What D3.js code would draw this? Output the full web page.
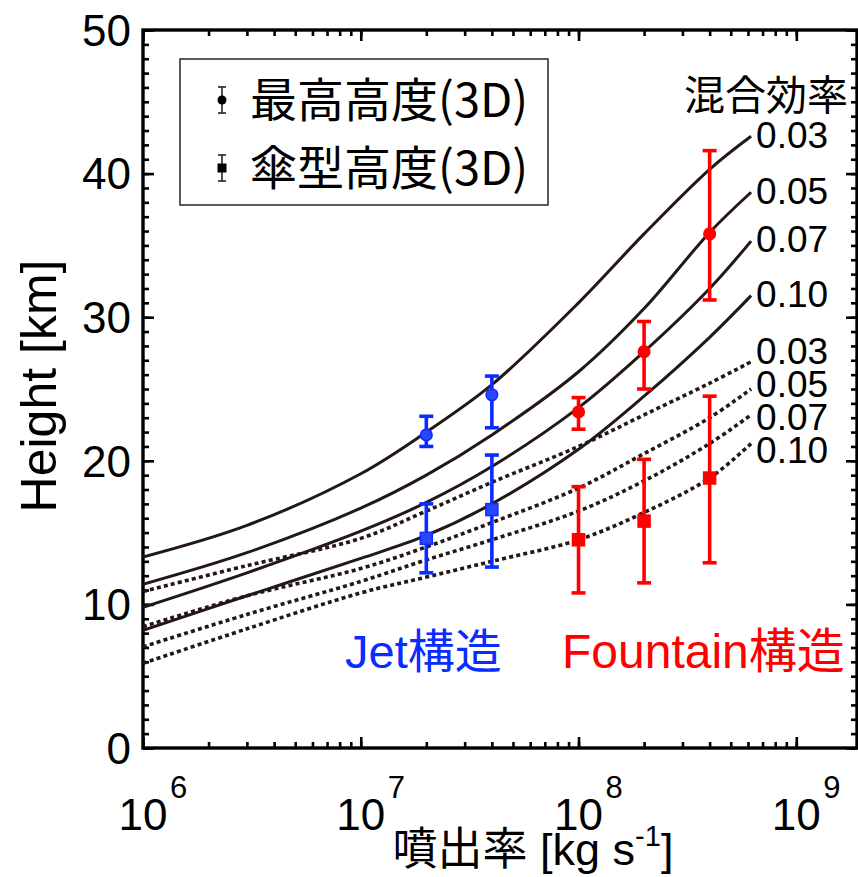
<!DOCTYPE html>
<html>
<head>
<meta charset="utf-8">
<script src="https://cdn.jsdelivr.net/npm/d3@7"></script>
<style>
  body { margin: 0; background: #fff; }
  svg { display: block; }
</style>
</head>
<body>
<svg id="chart" width="858" height="877"></svg>
<script>
// Eruption rates (kg/s) at which the model curves are sampled
const curveRates = [1e6, 3e6, 1e7, 2e7, 4e7, 1e8, 2e8, 4e8, 6.2e8];
// Mixing (entrainment) efficiencies of the model curves
const efficiencies = ["0.03", "0.05", "0.07", "0.10"];
// 1D model: maximum plume height (solid), km
const topHeight003 = [13.3, 15.5, 19.1, 22.0, 25.3, 31.0, 35.8, 40.3, 42.6];
const topHeight005 = [11.4, 13.6, 16.7, 19.0, 21.8, 26.2, 30.6, 35.9, 38.7];
const topHeight007 = [9.8, 12.2, 15.1, 17.1, 19.6, 23.7, 27.6, 32.0, 35.3];
const topHeight010 = [8.2, 10.6, 13.2, 14.8, 17.0, 20.8, 24.5, 28.6, 31.5];
// 1D model: umbrella (neutral buoyancy) height (dotted), km
const umbHeight003 = [10.9, 12.7, 14.6, 16.5, 18.5, 21.0, 23.2, 25.4, 26.9];
const umbHeight005 = [8.45, 10.6, 12.5, 14.0, 15.7, 18.1, 20.5, 23.0, 25.0];
const umbHeight007 = [7.05, 9.3, 11.6, 13.1, 14.5, 16.5, 18.6, 21.2, 23.2];
const umbHeight010 = [5.9, 8.3, 10.8, 11.9, 13.0, 14.5, 16.4, 18.8, 21.2];

// 3D simulations
const simRates   = [2e7, 4e7, 1e8, 2e8, 4e8];
const simRegime  = ["jet", "jet", "fountain", "fountain", "fountain"];
const simTop     = [21.8, 24.6, 23.4, 27.6, 35.8];
const simTopLow  = [21.0, 22.3, 22.2, 25.0, 31.2];
const simTopHigh = [23.1, 25.9, 24.4, 29.7, 41.6];
const simUmb     = [14.6, 16.6, 14.5, 15.8, 18.8];
const simUmbLow  = [12.2, 12.6, 10.8, 11.5, 12.9];
const simUmbHigh = [17.0, 20.4, 18.2, 20.1, 24.5];

// Axis ticks and texts
const xTickExponents = [6, 7, 8, 9];
const yTickValues = [0, 10, 20, 30, 40, 50];
const legendLabels = ["最高高度(3D)", "傘型高度(3D)"];
const regimeLabels = { jet: "Jet構造", fountain: "Fountain構造" };
const efficiencyTitle = "混合効率";
const yTitle = "Height [km]";
const xTitleMain = "噴出率 [kg s";
const xTitleSup = "-1";
const xTitleEnd = "]";

// ---- drawing ----
const svg = d3.select("#chart");
const plot = { left: 143, right: 857, top: 30, bottom: 748 };
const latin = "'Liberation Sans', Arial, 'Noto Sans CJK JP', sans-serif";
const cjk = "'Noto Sans CJK JP', sans-serif";
const ink = "#231815";
const blue = "#0a2cff";
const red = "#ff0000";
const regimeColor = { jet: blue, fountain: red };

const x = d3.scaleLog().domain([1e6, 1.9e9]).range([plot.left, plot.right]);
const y = d3.scaleLinear().domain([0, 50]).range([plot.bottom, plot.top]);

// minor ticks
const xMinor = [];
for (let e = 6; e <= 9; e++) for (let m = 1; m <= 9; m++) {
  const v = m * Math.pow(10, e);
  if (v <= 1.9e9) xMinor.push(v);
}
const xMajor = xTickExponents.map(e => Math.pow(10, e));
const yMinor = d3.range(0, 51, 1);

function styleAxis(g) {
  g.select(".domain").remove();
  g.selectAll(".tick line").attr("stroke", "#000").attr("stroke-width", 2.6);
  g.selectAll(".tick text").remove();
}

// bottom and top x ticks (inward)
svg.append("g").attr("transform", `translate(0,${plot.bottom})`)
  .call(d3.axisBottom(x).tickValues(xMinor).tickSize(-6)).call(styleAxis);
svg.append("g").attr("transform", `translate(0,${plot.bottom})`)
  .call(d3.axisBottom(x).tickValues(xMajor).tickSize(-11)).call(styleAxis);
svg.append("g").attr("transform", `translate(0,${plot.top})`)
  .call(d3.axisTop(x).tickValues(xMinor).tickSize(-6)).call(styleAxis);
svg.append("g").attr("transform", `translate(0,${plot.top})`)
  .call(d3.axisTop(x).tickValues(xMajor).tickSize(-11)).call(styleAxis);
// left and right y ticks (inward)
svg.append("g").attr("transform", `translate(${plot.left},0)`)
  .call(d3.axisLeft(y).tickValues(yMinor).tickSize(-6)).call(styleAxis);
svg.append("g").attr("transform", `translate(${plot.left},0)`)
  .call(d3.axisLeft(y).tickValues(yTickValues).tickSize(-11)).call(styleAxis);
svg.append("g").attr("transform", `translate(${plot.right},0)`)
  .call(d3.axisRight(y).tickValues(yMinor).tickSize(-6)).call(styleAxis);
svg.append("g").attr("transform", `translate(${plot.right},0)`)
  .call(d3.axisRight(y).tickValues(yTickValues).tickSize(-11)).call(styleAxis);

// frame
svg.append("rect")
  .attr("x", plot.left).attr("y", plot.top)
  .attr("width", plot.right - plot.left).attr("height", plot.bottom - plot.top)
  .attr("fill", "none").attr("stroke", "#000").attr("stroke-width", 3.4);

// y tick labels
svg.append("g").selectAll("text").data(yTickValues).join("text")
  .attr("x", plot.left - 12).attr("y", d => y(d)).attr("dy", "0.36em")
  .attr("text-anchor", "end").attr("font-family", latin).attr("font-size", 44)
  .text(d => d);

// x tick labels: 10 with superscript exponent
const xl = svg.append("g").selectAll("g").data(xTickExponents).join("g")
  .attr("transform", e => `translate(${x(Math.pow(10, e))},0)`);
xl.append("text").attr("x", 0).attr("y", 830).attr("text-anchor", "middle")
  .attr("font-family", latin).attr("font-size", 44).text("10");
xl.append("text").attr("x", 27).attr("y", 798).attr("text-anchor", "start")
  .attr("font-family", latin).attr("font-size", 31).text(e => e);

// axis titles
svg.append("text")
  .attr("transform", `translate(56,386) rotate(-90)`)
  .attr("text-anchor", "middle").attr("font-family", latin).attr("font-size", 50)
  .text(yTitle);
const xt = svg.append("text").attr("x", 533).attr("y", 865).attr("text-anchor", "middle")
  .attr("font-family", latin).attr("font-size", 45);
xt.append("tspan").text(xTitleMain);
xt.append("tspan").attr("font-size", 29).attr("dy", -19).text(xTitleSup);
xt.append("tspan").attr("dy", 19).text(xTitleEnd);

// model curves
const line = d3.line().x(d => x(d[0])).y(d => y(d[1])).curve(d3.curveCatmullRom.alpha(0.5));
const topSeries = [topHeight003, topHeight005, topHeight007, topHeight010];
const umbSeries = [umbHeight003, umbHeight005, umbHeight007, umbHeight010];
const curves = [
  ...topSeries.map((h, i) => ({ h, label: efficiencies[i], dotted: false })),
  ...umbSeries.map((h, i) => ({ h, label: efficiencies[i], dotted: true }))
];
svg.append("clipPath").attr("id", "plotClip").append("rect")
  .attr("x", plot.left).attr("y", plot.top)
  .attr("width", plot.right - plot.left).attr("height", plot.bottom - plot.top);
svg.append("g").attr("clip-path", "url(#plotClip)").selectAll("path").data(curves).join("path")
  .attr("d", c => line(curveRates.map((r, i) => [r, c.h[i]])))
  .attr("fill", "none").attr("stroke", ink)
  .attr("stroke-width", c => c.dotted ? 3.6 : 3)
  .attr("stroke-dasharray", c => c.dotted ? "4,3.2" : null);

// curve end labels, spread so they do not overlap
const endY = curves.map(c => y(c.h[c.h.length - 1]));
const labelY = endY.slice();
const order = d3.range(labelY.length).sort((a, b) => labelY[a] - labelY[b]);
for (let it = 0; it < 200; it++) {
  for (let k = 1; k < order.length; k++) {
    const a = order[k - 1], b = order[k];
    const d = 33 - (labelY[b] - labelY[a]);
    if (d > 0) { labelY[a] -= d / 2; labelY[b] += d / 2; }
  }
}
svg.append("g").selectAll("text").data(curves).join("text")
  .attr("x", x(curveRates[curveRates.length - 1]) + 5)
  .attr("y", (c, i) => labelY[i] - 2).attr("dy", "0.36em")
  .attr("font-family", latin).attr("font-size", 37).attr("fill", "#000")
  .text(c => c.label);
svg.append("text").attr("x", 684).attr("y", 95).attr("dy", "0.36em")
  .attr("font-family", cjk).attr("font-size", 41).attr("fill", "#000")
  .text(efficiencyTitle);

// 3D simulation points with error bars
const sims = simRates.map((r, i) => ({
  r, regime: simRegime[i],
  top: simTop[i], topLow: simTopLow[i], topHigh: simTopHigh[i],
  umb: simUmb[i], umbLow: simUmbLow[i], umbHigh: simUmbHigh[i]
}));
const capW = 7;
function errorBar(g, lowKey, highKey) {
  g.append("line").attr("x1", d => x(d.r)).attr("x2", d => x(d.r))
    .attr("y1", d => y(d[lowKey])).attr("y2", d => y(d[highKey]));
  g.append("line").attr("x1", d => x(d.r) - capW).attr("x2", d => x(d.r) + capW)
    .attr("y1", d => y(d[lowKey])).attr("y2", d => y(d[lowKey]));
  g.append("line").attr("x1", d => x(d.r) - capW).attr("x2", d => x(d.r) + capW)
    .attr("y1", d => y(d[highKey])).attr("y2", d => y(d[highKey]));
}
const simG = svg.append("g").selectAll("g").data(sims).join("g")
  .attr("stroke", d => regimeColor[d.regime]).attr("stroke-width", 3.6);
simG.call(errorBar, "topLow", "topHigh");
simG.call(errorBar, "umbLow", "umbHigh");
simG.append("circle").attr("cx", d => x(d.r)).attr("cy", d => y(d.top)).attr("r", 5.8)
  .attr("fill", d => d.regime === "jet" ? "#2a46ff" : red).attr("stroke-width", 1.5);
simG.append("rect").attr("x", d => x(d.r) - 6).attr("y", d => y(d.umb) - 6)
  .attr("width", 12).attr("height", 12)
  .attr("fill", d => d.regime === "jet" ? "#2a46ff" : red).attr("stroke-width", 1.5);

// regime labels
svg.append("text").attr("x", 345).attr("y", 668).attr("font-family", latin)
  .attr("font-size", 47).attr("fill", blue).text(regimeLabels.jet);
svg.append("text").attr("x", 562).attr("y", 668).attr("font-family", latin)
  .attr("font-size", 48).attr("fill", red).text(regimeLabels.fountain);

// legend
const lg = svg.append("g");
lg.append("rect").attr("x", 180).attr("y", 59).attr("width", 368).attr("height", 146)
  .attr("fill", "#fff").attr("stroke", "#333").attr("stroke-width", 1.6);
const legendRows = lg.selectAll("g").data(legendLabels).join("g")
  .attr("transform", (d, i) => `translate(222,${100 + i * 68})`);
legendRows.append("line").attr("x1", 0).attr("x2", 0).attr("y1", -13).attr("y2", 13)
  .attr("stroke", "#222").attr("stroke-width", 1.6);
legendRows.append("line").attr("x1", -4).attr("x2", 4).attr("y1", -13).attr("y2", -13)
  .attr("stroke", "#222").attr("stroke-width", 1.6);
legendRows.append("line").attr("x1", -4).attr("x2", 4).attr("y1", 13).attr("y2", 13)
  .attr("stroke", "#222").attr("stroke-width", 1.6);
legendRows.filter((d, i) => i === 0).append("circle").attr("r", 4.5).attr("fill", "#000");
legendRows.filter((d, i) => i === 1).append("rect").attr("x", -4.5).attr("y", -4.5)
  .attr("width", 9).attr("height", 9).attr("fill", "#000");
legendRows.append("text").attr("x", 28).attr("y", 0).attr("dy", "0.36em")
  .attr("font-family", cjk).attr("font-size", 47).attr("fill", "#000")
  .text(d => d);
</script>
</body>
</html>
